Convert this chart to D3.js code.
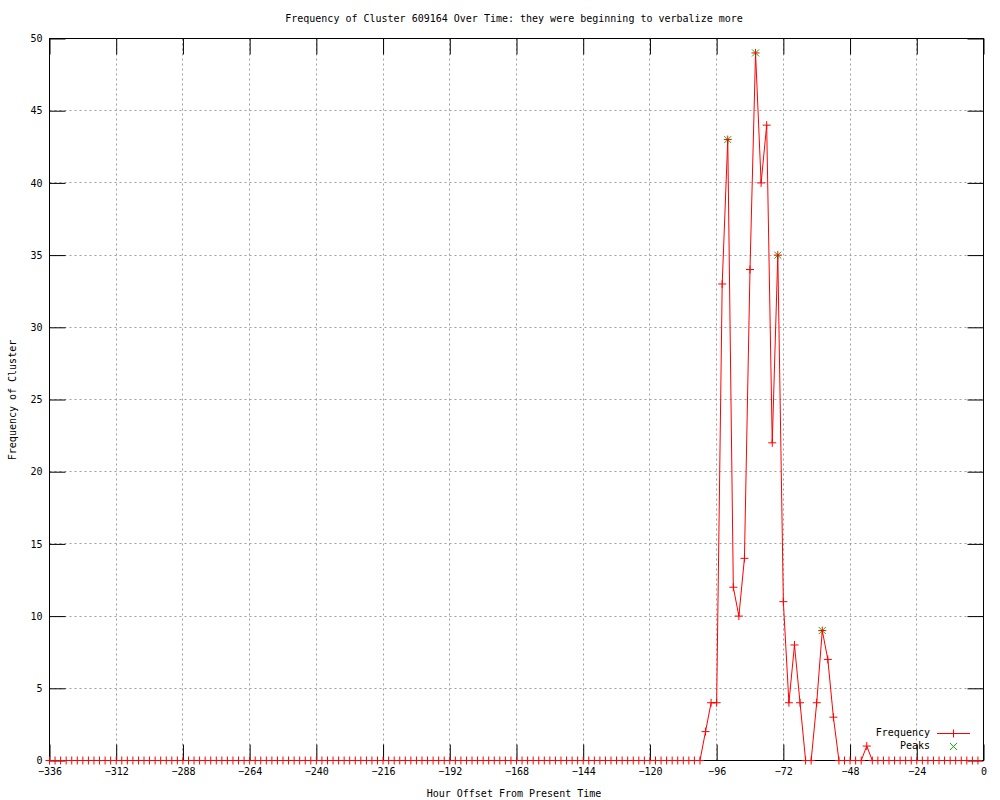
<!DOCTYPE html>
<html>
<head>
<meta charset="utf-8">
<script src="https://cdn.jsdelivr.net/npm/d3@7"></script>
<style>
  body { margin: 0; background: #fff; }
  text { font-family: "DejaVu Sans Mono", monospace; font-size: 10px; fill: #000; }
</style>
</head>
<body>
<script>
// hour offsets, every 2 hours
var hours = [
  -336, -334, -332, -330, -328, -326, -324, -322, -320, -318, -316, -314,
  -312, -310, -308, -306, -304, -302, -300, -298, -296, -294, -292, -290,
  -288, -286, -284, -282, -280, -278, -276, -274, -272, -270, -268, -266,
  -264, -262, -260, -258, -256, -254, -252, -250, -248, -246, -244, -242,
  -240, -238, -236, -234, -232, -230, -228, -226, -224, -222, -220, -218,
  -216, -214, -212, -210, -208, -206, -204, -202, -200, -198, -196, -194,
  -192, -190, -188, -186, -184, -182, -180, -178, -176, -174, -172, -170,
  -168, -166, -164, -162, -160, -158, -156, -154, -152, -150, -148, -146,
  -144, -142, -140, -138, -136, -134, -132, -130, -128, -126, -124, -122,
  -120, -118, -116, -114, -112, -110, -108, -106, -104, -102, -100, -98,
  -96, -94, -92, -90, -88, -86, -84, -82, -80, -78, -76, -74,
  -72, -70, -68, -66, -64, -62, -60, -58, -56, -54, -52, -50,
  -48, -46, -44, -42, -40, -38, -36, -34, -32, -30, -28, -26,
  -24, -22, -20, -18, -16, -14, -12, -10, -8, -6, -4, -2
];

var frequency = [
  0, 0, 0, 0, 0, 0, 0, 0, 0, 0, 0, 0,
  0, 0, 0, 0, 0, 0, 0, 0, 0, 0, 0, 0,
  0, 0, 0, 0, 0, 0, 0, 0, 0, 0, 0, 0,
  0, 0, 0, 0, 0, 0, 0, 0, 0, 0, 0, 0,
  0, 0, 0, 0, 0, 0, 0, 0, 0, 0, 0, 0,
  0, 0, 0, 0, 0, 0, 0, 0, 0, 0, 0, 0,
  0, 0, 0, 0, 0, 0, 0, 0, 0, 0, 0, 0,
  0, 0, 0, 0, 0, 0, 0, 0, 0, 0, 0, 0,
  0, 0, 0, 0, 0, 0, 0, 0, 0, 0, 0, 0,
  0, 0, 0, 0, 0, 0, 0, 0, 0, 0, 2, 4,
  4, 33, 43, 12, 10, 14, 34, 49, 40, 44, 22, 35,
  11, 4, 8, 4, 0, 0, 4, 9, 7, 3, 0, 0,
  0, 0, 0, 1, 0, 0, 0, 0, 0, 0, 0, 0,
  0, 0, 0, 0, 0, 0, 0, 0, 0, 0, 0, 0
];

var peakHours = [-92, -82, -74, -58];
var peakValues = [43, 49, 35, 9];

var xTicks = [-336, -312, -288, -264, -240, -216, -192, -168, -144, -120, -96, -72, -48, -24, 0];
var yTicks = [0, 5, 10, 15, 20, 25, 30, 35, 40, 45, 50];

var width = 1000, height = 800;
var plotLeft = 49.5, plotRight = 983.5, plotTop = 38.5, plotBottom = 760.5;

var svg = d3.select("body").append("svg")
    .attr("width", width)
    .attr("height", height);

var x = d3.scaleLinear().domain([-336, 0]).range([plotLeft, plotRight]);
var y = d3.scaleLinear().domain([0, 50]).range([plotBottom, plotTop]);

function px(v) { return Math.round(v - 0.5) + 0.5; }

// grid
var grid = svg.append("g");
grid.selectAll(".gx")
    .data(xTicks.filter(function(d) { return d > -336 && d < 0; }))
    .enter().append("line")
    .attr("x1", function(d) { return px(x(d)); })
    .attr("x2", function(d) { return px(x(d)); })
    .attr("y1", plotTop).attr("y2", plotBottom)
    .attr("stroke", "#a0a0a0")
    .attr("stroke-dasharray", "2 3");
grid.selectAll(".gy")
    .data(yTicks.filter(function(d) { return d > 0 && d < 50; }))
    .enter().append("line")
    .attr("y1", function(d) { return px(y(d)); })
    .attr("y2", function(d) { return px(y(d)); })
    .attr("x1", plotLeft).attr("x2", plotRight)
    .attr("stroke", "#a0a0a0")
    .attr("stroke-dasharray", "2 3");

// axes drawn with d3 axes (ticks inward, mirrored)
var tl = 16;
var xAxisB = d3.axisBottom(x).tickValues(xTicks).tickSizeInner(-tl).tickSizeOuter(0).tickPadding(5);
var xAxisT = d3.axisTop(x).tickValues(xTicks).tickSizeInner(-tl).tickSizeOuter(0).tickFormat("");
var yAxisL = d3.axisLeft(y).tickValues(yTicks).tickSizeInner(-tl).tickSizeOuter(0).tickPadding(7);
var yAxisR = d3.axisRight(y).tickValues(yTicks).tickSizeInner(-tl).tickSizeOuter(0).tickFormat("");

function styleAxis(g) {
  g.select(".domain").remove();
  g.selectAll("line").attr("stroke", "#000");
  g.selectAll("text").attr("font-family", "DejaVu Sans Mono, monospace").attr("font-size", 10).attr("fill", "#000");
}

svg.append("g").attr("transform", "translate(0," + plotBottom + ")").call(xAxisB).call(styleAxis)
  .selectAll("text").attr("dy", "0.9em");
svg.append("g").attr("transform", "translate(0," + plotTop + ")").call(xAxisT).call(styleAxis);
svg.append("g").attr("transform", "translate(" + plotLeft + ",0)").call(yAxisL).call(styleAxis);
svg.append("g").attr("transform", "translate(" + plotRight + ",0)").call(yAxisR).call(styleAxis);

// border
svg.append("rect")
    .attr("x", plotLeft).attr("y", plotTop)
    .attr("width", plotRight - plotLeft).attr("height", plotBottom - plotTop)
    .attr("fill", "none")
    .attr("stroke", "#000");

var data = hours.map(function(h, i) { return {h: h, v: frequency[i]}; });
var peaks = peakHours.map(function(h, i) { return {h: h, v: peakValues[i]}; });

var plusPath = "M-4,0L4,0M0,-4L0,4";
var crossPath = "M-3.5,-3.5L3.5,3.5M-3.5,3.5L3.5,-3.5";

// peaks (green x), under the red line
svg.append("g").selectAll("path")
    .data(peaks)
    .enter().append("path")
    .attr("transform", function(d) { return "translate(" + x(d.h) + "," + y(d.v) + ")"; })
    .attr("d", crossPath)
    .attr("stroke", "#00c000")
    .attr("fill", "none");

// frequency line
var line = d3.line()
    .x(function(d) { return x(d.h); })
    .y(function(d) { return y(d.v); });

svg.append("path")
    .datum(data)
    .attr("d", line)
    .attr("fill", "none")
    .attr("stroke", "#ff0000")
    .attr("stroke-width", 1);

svg.append("g").selectAll("path")
    .data(data)
    .enter().append("path")
    .attr("transform", function(d) { return "translate(" + x(d.h) + "," + y(d.v) + ")"; })
    .attr("d", plusPath)
    .attr("stroke", "#ff0000")
    .attr("fill", "none");

// legend
var legend = svg.append("g");
legend.append("text").attr("x", 930).attr("y", 733).attr("text-anchor", "end")
    .attr("dominant-baseline", "middle").text("Frequency");
legend.append("line").attr("x1", 937).attr("x2", 970).attr("y1", 733.5).attr("y2", 733.5)
    .attr("stroke", "#ff0000").attr("stroke-width", 1);
legend.append("path").attr("transform", "translate(953.5,733.5)")
    .attr("d", plusPath).attr("stroke", "#ff0000").attr("fill", "none");
legend.append("text").attr("x", 930).attr("y", 746).attr("text-anchor", "end")
    .attr("dominant-baseline", "middle").text("Peaks");
legend.append("path").attr("transform", "translate(953.5,746.5)")
    .attr("d", crossPath).attr("stroke", "#00c000").attr("fill", "none");

// titles
svg.append("text").attr("x", 514).attr("y", 22).attr("text-anchor", "middle")
    .text("Frequency of Cluster 609164 Over Time: they were beginning to verbalize more");
svg.append("text").attr("x", 514).attr("y", 797).attr("text-anchor", "middle")
    .text("Hour Offset From Present Time");
svg.append("text")
    .attr("transform", "translate(16,400) rotate(-90)")
    .attr("text-anchor", "middle")
    .text("Frequency of Cluster");
</script>
</body>
</html>
